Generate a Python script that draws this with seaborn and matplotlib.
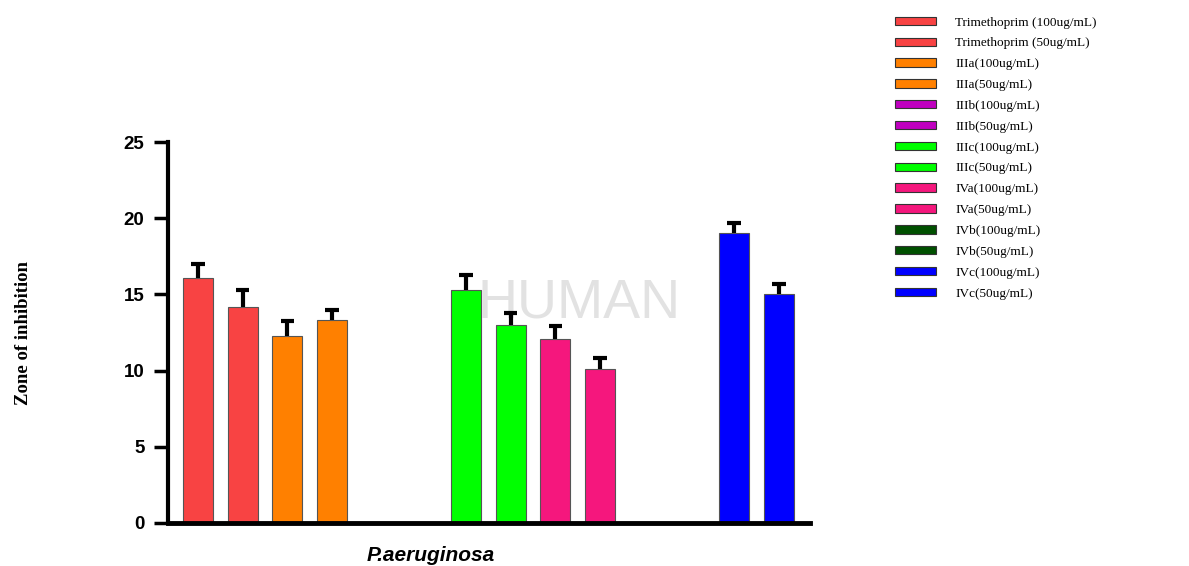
import matplotlib
matplotlib.use("Agg")
import matplotlib.pyplot as plt
from matplotlib.patches import Patch
import numpy as np
import pandas as pd
import seaborn as sns

# Treatment groups, measured zone of inhibition (mm) and SD
samples = [
    "Trimethoprim (100ug/mL)", "Trimethoprim (50ug/mL)",
    "IIIa(100ug/mL)", "IIIa(50ug/mL)",
    "IIIb(100ug/mL)", "IIIb(50ug/mL)",
    "IIIc(100ug/mL)", "IIIc(50ug/mL)",
    "IVa(100ug/mL)", "IVa(50ug/mL)",
    "IVb(100ug/mL)", "IVb(50ug/mL)",
    "IVc(100ug/mL)", "IVc(50ug/mL)",
]
zone = [16.1, 14.2, 12.3, 13.3, 0, 0, 15.3, 13.0, 12.1, 10.1, 0, 0, 19.0, 15.0]
sd = [0.9, 1.1, 0.95, 0.7, 0, 0, 0.95, 0.8, 0.8, 0.75, 0, 0, 0.7, 0.7]
colors = [
    "#F84343", "#F84343", "#FF8000", "#FF8000", "#BF00BF", "#BF00BF",
    "#00FF00", "#00FF00", "#F5177D", "#F5177D", "#005000", "#005000",
    "#0000FF", "#0000FF",
]
yticks = [0, 5, 10, 15, 20, 25]

df = pd.DataFrame({"sample": samples, "zone": zone, "sd": sd})

sns.set_style("white")
plt.rcParams["font.family"] = ["Liberation Sans", "DejaVu Sans"]
plt.rcParams["text.color"] = "black"
plt.rcParams["axes.labelcolor"] = "black"
plt.rcParams["ytick.color"] = "black"

fig = plt.figure(figsize=(11.89, 5.66), dpi=100)
ax = fig.add_axes([0.1413, 0.076, 0.5397, 0.673])

# faint watermark behind the data
ax.text(0.64, 0.575, "HUMAN", transform=ax.transAxes, ha="center", va="center",
        fontsize=40, color="#e2e2e2", family="Liberation Sans", zorder=0)

sns.barplot(data=df, x="sample", y="zone", hue="sample", order=samples,
            hue_order=samples, palette=colors, saturation=1, width=0.67,
            legend=False, errorbar=None, edgecolor="#555555", linewidth=0.8,
            ax=ax, zorder=2)

# upper-only error bars: stem from bar top to mean + SD, with a cap
x = np.arange(len(samples))
z = np.array(zone)
s = np.array(sd)
has_err = s > 0
ax.vlines(x[has_err], z[has_err], z[has_err] + s[has_err], color="black",
          linewidth=3, zorder=3)
ax.hlines(z[has_err] + s[has_err], x[has_err] - 0.15, x[has_err] + 0.15,
          color="black", linewidth=3, zorder=3)

ax.set_xlim(-0.67, len(samples) - 1 + 0.69)
ax.set_ylim(0, 25)
ax.set_yticks(yticks)
ax.set_yticklabels([str(t) for t in yticks], fontsize=13.5, fontweight="bold")
ax.set_xticks([])
for side in ["top", "right"]:
    ax.spines[side].set_visible(False)
ax.spines["left"].set_linewidth(3)
ax.spines["bottom"].set_linewidth(3.5)
ax.spines["left"].set_color("black")
ax.spines["bottom"].set_color("black")
ax.tick_params(axis="y", direction="out", length=10, width=2.5, color="black",
               left=True, pad=7)
ax.tick_params(axis="x", bottom=False)

ax.set_xlabel("P.aeruginosa", fontsize=15, fontweight="bold", style="italic")
ax.xaxis.set_label_coords(0.41, -0.06)
ax.set_ylabel("Zone of inhibition", fontsize=13.5, fontweight="bold",
              family="Liberation Serif")
ax.yaxis.set_label_coords(-0.212, 0.5)

handles = [Patch(facecolor=c, edgecolor="#333333", linewidth=0.8) for c in colors]
fig.legend(handles, samples, loc="upper left", bbox_to_anchor=(0.748, 0.98),
           frameon=False, prop={"family": "Liberation Serif", "size": 9.5},
           handlelength=3.1, handleheight=0.6, handletextpad=1.5,
           labelspacing=0.67, borderaxespad=0)

fig.savefig("out.png", dpi=100, facecolor="white")
